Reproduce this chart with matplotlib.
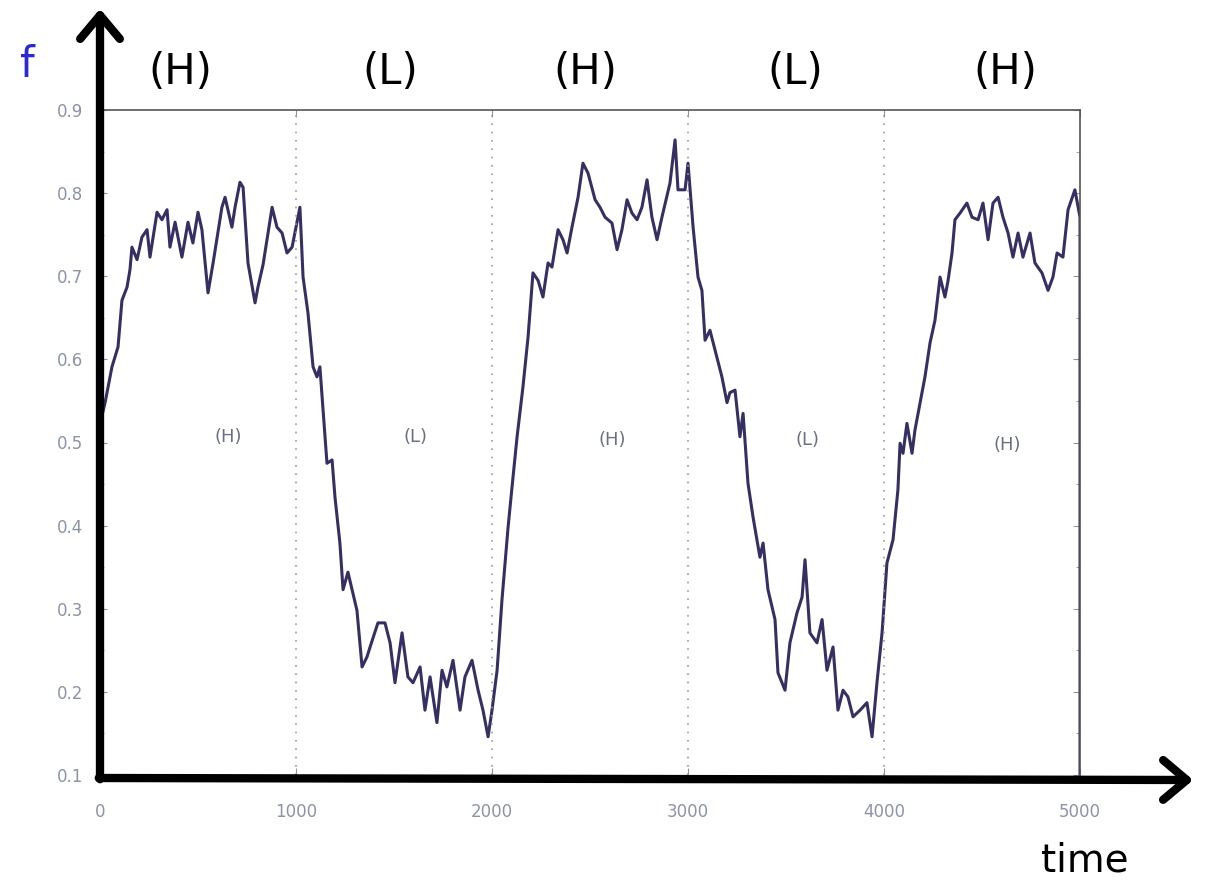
import matplotlib
matplotlib.use('Agg')
import matplotlib.pyplot as plt
from matplotlib.patches import FancyArrowPatch

# time series
time = [0, 0, 5, 26, 61, 92, 112, 138, 153, 163, 189, 214, 240, 255, 291, 316, 342,
        357, 383, 418, 449, 474, 500, 520, 551, 577, 622, 638, 673, 689, 714, 730,
        755, 791, 806, 832, 878, 903, 929, 954, 980, 1020, 1036, 1061, 1087,
        1107, 1122, 1133, 1158, 1184, 1199, 1224, 1240, 1265, 1311, 1337, 1362,
        1378, 1418, 1454, 1480, 1505, 1541, 1571, 1597, 1633, 1658, 1684, 1719,
        1745, 1770, 1801, 1837, 1862, 1898, 1929, 1954, 1980, 2000, 2026, 2051, 2082,
        2102, 2128, 2158, 2184, 2209, 2235, 2260, 2286, 2306, 2337, 2362, 2383,
        2408, 2439, 2464, 2490, 2526, 2551, 2577, 2612, 2638, 2663, 2689, 2714,
        2740, 2765, 2791, 2816, 2842, 2867, 2908, 2934, 2949, 2985, 3000, 3026,
        3051, 3071,
        3087, 3112, 3138, 3173, 3199, 3214, 3240, 3265, 3281, 3306, 3332, 3367,
        3383, 3408, 3444, 3459, 3495, 3520, 3556, 3582, 3597, 3622, 3658, 3684,
        3709, 3740, 3765, 3791, 3816, 3842, 3878, 3913, 3939, 3964, 3990, 4015,
        4046, 4071,
        4082, 4097, 4117, 4143, 4158, 4184, 4209, 4235, 4260, 4286, 4311, 4327,
        4347, 4362, 4388, 4423, 4449, 4480, 4505, 4531, 4556, 4582, 4607, 4633,
        4658, 4684, 4709, 4745, 4770, 4806, 4837, 4862, 4883, 4913, 4939, 4974,
        5000, 5000]
f = [0.10, 0.52, 0.527, 0.548, 0.591, 0.615, 0.671, 0.687, 0.708, 0.735, 0.720,
     0.747, 0.756, 0.723, 0.777, 0.768, 0.780, 0.735, 0.765, 0.723, 0.765, 0.740,
     0.777, 0.756, 0.680, 0.716, 0.783, 0.795, 0.759, 0.783, 0.813, 0.807, 0.716,
     0.668, 0.687, 0.714, 0.783, 0.759, 0.752, 0.728, 0.735, 0.783, 0.699, 0.656,
     0.591,
     0.579, 0.591, 0.555, 0.475, 0.479, 0.434, 0.379, 0.323, 0.344, 0.298, 0.230,
     0.242, 0.254, 0.283, 0.283, 0.259, 0.211, 0.271, 0.218, 0.211, 0.230, 0.178,
     0.218, 0.163, 0.226, 0.206, 0.238, 0.178, 0.218, 0.238, 0.202, 0.178, 0.146,
     0.178, 0.226, 0.311, 0.398,
     0.446, 0.507, 0.567, 0.627, 0.704, 0.695, 0.675, 0.716, 0.711, 0.756, 0.744,
     0.728, 0.759, 0.795, 0.836, 0.824, 0.792, 0.783, 0.771, 0.764, 0.732, 0.756,
     0.792, 0.776, 0.768, 0.783, 0.816, 0.771, 0.744, 0.771, 0.812, 0.864, 0.804,
     0.804, 0.836, 0.759, 0.699, 0.683,
     0.623, 0.635, 0.611, 0.579, 0.548, 0.560, 0.563, 0.507, 0.535, 0.451, 0.410,
     0.362, 0.379, 0.323, 0.287, 0.223, 0.202, 0.259, 0.295, 0.314, 0.359, 0.271,
     0.259, 0.287, 0.226, 0.254, 0.178, 0.202, 0.194, 0.170, 0.178, 0.187, 0.146,
     0.211, 0.271, 0.355, 0.383, 0.443,
     0.499, 0.487, 0.523, 0.487, 0.515, 0.548, 0.579, 0.620, 0.647, 0.699, 0.675,
     0.695, 0.728, 0.768, 0.776, 0.788, 0.771, 0.768, 0.788, 0.744, 0.788, 0.795,
     0.771, 0.752, 0.723, 0.752, 0.723, 0.752, 0.716, 0.704, 0.683, 0.699, 0.728,
     0.723, 0.780, 0.804, 0.771, 0.10]

boundaries = [1000, 2000, 3000, 4000]
phase_labels = ['(H)', '(L)', '(H)', '(L)', '(H)']
inner_x = [653, 1612, 2612, 3612, 4628]
inner_y = [0.507, 0.507, 0.503, 0.503, 0.497]
outer_x = [180, 390, 585, 795, 1005]  # figure pixels, above the frame
xticks = [0, 1000, 2000, 3000, 4000, 5000]
yticks = [0.1, 0.2, 0.3, 0.4, 0.5, 0.6, 0.7, 0.8, 0.9]

W, H = 1211, 889
fig = plt.figure(figsize=(W / 100, H / 100), dpi=100)
ax = fig.add_axes([100 / W, 1 - 775 / H, 980 / W, 665 / H])

ax.plot(time, f, color='#352f62', lw=2.2)
for b in boundaries:
    ax.axvline(b, color='#9a9aa0', lw=1.2, ls=(0, (1, 4)))
for lab, x, y in zip(phase_labels, inner_x, inner_y):
    ax.text(x, y, lab, color='#6a6f82', fontsize=13, ha='center', va='center')

ax.set_xlim(0, 5000)
ax.set_ylim(0.1, 0.9)
ax.set_xticks(xticks)
ax.set_yticks(yticks)
ax.set_yticks([0.15, 0.25, 0.35, 0.45, 0.55, 0.65, 0.75, 0.85], minor=True)
ax.set_xticklabels([str(t) for t in xticks])
ax.set_yticklabels(['%.1f' % v for v in yticks])
ax.tick_params(direction='in', colors='#8d93a6', labelcolor='#8d93a6',
               labelsize=12, right=True, top=True, length=5, pad=12)
ax.tick_params(axis='x', pad=20)
ax.tick_params(which='minor', direction='in', right=True, length=3, color='#8d93a6')
for s in ['top', 'right']:
    ax.spines[s].set_color('#555555')
    ax.spines[s].set_linewidth(1.2)
for s in ['left', 'bottom']:
    ax.spines[s].set_visible(False)

# hand-drawn style axes overlay
def arrow(p0, p1):
    fig.add_artist(FancyArrowPatch((p0[0] / W, 1 - p0[1] / H), (p1[0] / W, 1 - p1[1] / H),
                                   transform=fig.transFigure,
                                   arrowstyle='->,head_length=0.5,head_width=0.42',
                                   mutation_scale=34, lw=6, color='black',
                                   capstyle='round', joinstyle='round'))

arrow((100, 782), (100, 6))
arrow((96, 778), (1196, 780))

for lab, x in zip(phase_labels, outer_x):
    fig.text(x / W, 1 - 72 / H, lab, fontsize=30, ha='center', va='center')
fig.text(27 / W, 1 - 65 / H, 'f', fontsize=30, color='#2a2ad0', ha='center', va='center')
fig.text(1085 / W, 1 - 860 / H, 'time', fontsize=28, ha='center', va='center')

fig.savefig('out.png', dpi=100)
